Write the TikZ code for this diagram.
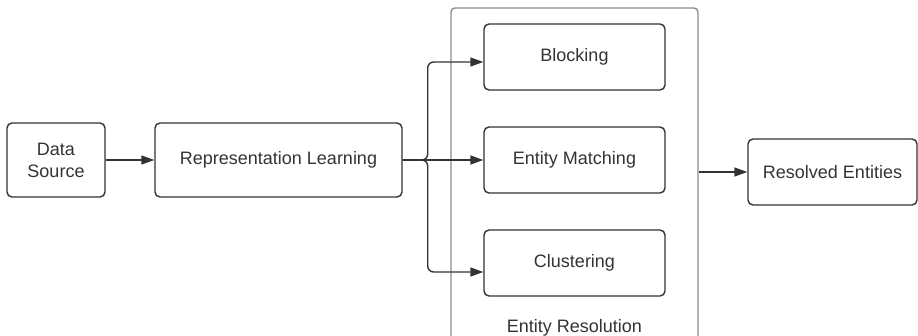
\documentclass[tikz,border=0pt]{standalone}
\usepackage{fontspec}
\setmainfont{Liberation Sans}
\usetikzlibrary{arrows.meta}
\usetikzlibrary{positioning}
\definecolor{linecol}{HTML}{333333}
\definecolor{framecol}{HTML}{8C8C8C}
\newcommand\boxfont{\fontsize{18}{22}\selectfont}
\tikzset{
  box/.style={draw=linecol, line width=1.4pt, rounded corners=5pt, align=center,
    text=linecol, font=\boxfont, inner sep=0pt},
  group/.style={draw=framecol, line width=1.4pt, rounded corners=4pt},
  link/.style={draw=linecol, line width=1.4pt, -{Triangle[length=13pt,width=9pt]}},
}

\begin{document}
\begin{tikzpicture}[x=1pt,y=-1pt]
  %
  \useasboundingbox (0,0) rectangle (918,335);

  \node[box, minimum width=98pt, minimum height=74pt] (source) at (56,160) {Data\\Source};
  \node[box, minimum width=247pt, minimum height=74pt] (replearn) at (278.5,160) {Representation Learning};

  \node[group, minimum width=247pt, minimum height=347pt] (er) at (574.5,181.5) {};
  \node[text=linecol, font=\boxfont, anchor=base] (erlabel) at (574.5,332) {Entity Resolution};

  \node[box, minimum width=181pt, minimum height=66pt] (blocking) at (574.5,57) {Blocking};
  \node[box, minimum width=181pt, minimum height=66pt] (matching) at (574.5,160) {Entity Matching};
  \node[box, minimum width=181pt, minimum height=66pt] (clustering) at (574.5,263) {Clustering};

  \node[box, minimum width=169pt, minimum height=66pt] (resolved) at (832.5,172) {Resolved Entities};

  \draw[link] (source) -- (replearn);
  \draw[link] (replearn) -- (matching);
  \draw[link, rounded corners=6pt] (replearn.east) -- ++(25,0) |- ([yshift=-5pt]blocking.west);
  \draw[link, rounded corners=6pt] (replearn.east) -- ++(25,0) |- ([yshift=-9pt]clustering.west);
  \draw[link] (er.east |- resolved.west) -- (resolved.west);

\end{tikzpicture}
\end{document}
